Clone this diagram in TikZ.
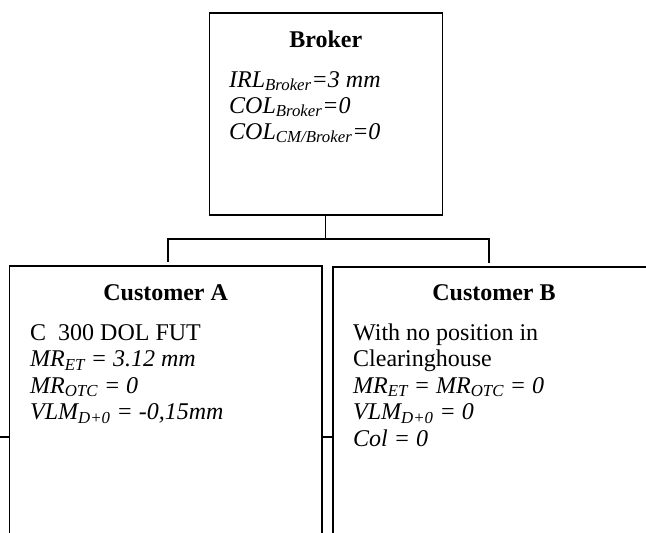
\documentclass[tikz,border=0pt]{standalone}
\usepackage{fontspec}
\setmainfont{Liberation Serif}
\newcommand\sub[1]{\textsubscript{#1}}
\tikzset{
  box/.style={draw, line width=1.5pt, rectangle, inner sep=0pt},
  conn/.style={draw, line width=1.3pt},
  txt/.style={inner sep=0pt, anchor=base west, font=\fontsize{24}{26.5}\selectfont},
  ttl/.style={inner sep=0pt, anchor=base, font=\fontsize{24}{26.5}\selectfont\bfseries},
}
\begin{document}
\begin{tikzpicture}[x=1pt, y=-1pt]
  \clip (0,0) rectangle (646,533);
  % boxes
  \node[box, minimum width=233pt, minimum height=202pt] (broker) at (325.8,114.2) {};
  \node[box, minimum width=312.7pt, minimum height=340pt] (custA) at (165.65,436) {};
  \node[box, minimum width=322pt, minimum height=340pt] (custB) at (494,437) {};

  % broker text
  \node[ttl] (tb) at (325.8,47.5) {Broker};
  \node[txt] (b1) at (229,87) {\itshape IRL\sub{Broker}=3 mm};
  \node[txt] (b2) at (229,113) {\itshape COL\sub{Broker}=0};
  \node[txt] (b3) at (229,139) {\itshape COL\sub{CM/Broker}=0};

  % customer A text
  \node[ttl] (ta) at (165.65,300) {Customer A};
  \node[txt] (a1) at (30,340) {C\hspace{0.5em}300 DOL FUT};
  \node[txt] (a2) at (30,366.5) {\itshape MR\sub{ET} = 3.12 mm};
  \node[txt] (a3) at (30,393) {\itshape MR\sub{OTC} = 0};
  \node[txt] (a4) at (30,419.5) {\itshape VLM\sub{D+0} = -0,15mm};

  % customer B text
  \node[ttl] (tbb) at (494,300) {Customer B};
  \node[txt] (c1) at (353,340) {With no position in};
  \node[txt] (c2) at (353,366.5) {Clearinghouse};
  \node[txt] (c3) at (353,393) {\itshape MR\sub{ET} = MR\sub{OTC} = 0};
  \node[txt] (c4) at (353,419.5) {\itshape VLM\sub{D+0} = 0};
  \node[txt] (c5) at (353,446) {\itshape Col = 0};

  % tree connectors
  \coordinate (bus) at (325.8,239);
  \coordinate (edge) at (0,437);
  \draw[conn] (broker.south) -- (bus);
  \draw[conn, shorten >=3pt] (bus) -| ([xshift=2.35pt]custA.north);
  \draw[conn, shorten >=3pt] (bus) -| ([xshift=-5pt]custB.north);
  % side links
  \draw[conn] (edge) -- (edge -| custA.west);
  \draw[conn] (custA.east |- edge) -- (custB.west |- edge);
\end{tikzpicture}
\end{document}
